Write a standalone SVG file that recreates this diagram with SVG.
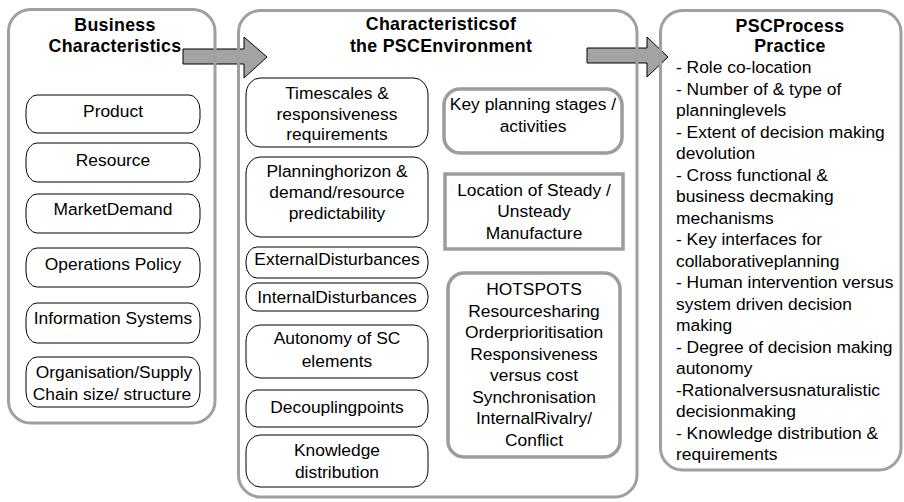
<svg xmlns="http://www.w3.org/2000/svg" width="904" height="502" viewBox="0 0 904 502">
<style>
text{font-family:"Liberation Sans",Arial,sans-serif;font-size:17.4px;fill:#000}
.t{font-weight:bold;text-anchor:middle;font-size:17.8px;letter-spacing:0.3px}
.c{text-anchor:middle}
.panel{fill:none;stroke:#a0a0a0;stroke-width:3}
.pill{fill:#fff;stroke:#000;stroke-width:1}
.gbox{fill:#fff;stroke:#9c9c9c;stroke-width:3.5}
.arrow{fill:#a3a3a3;stroke:#000;stroke-width:1}
</style>
<rect width="904" height="502" fill="#fff"/>
<g id="connectors">
<polygon class="arrow" points="183,49 244,49 244,37 267,57 244,78 244,64 183,64"/>
<polygon class="arrow" points="587,48 647,48 647,37 668,57 647,77 647,63 587,63"/>
</g>
<g id="business">
<rect class="panel" x="8.5" y="9.5" width="206.5" height="413.5" rx="22"/>
<text class="t" x="115" y="31">Business</text>
<text class="t" x="115" y="52">Characteristics</text>
</g>
<g id="product"><rect class="pill" x="26" y="95" width="174" height="38" rx="11" ry="15"/><text class="c" x="113" y="117">Product</text></g>
<g id="resource"><rect class="pill" x="26" y="143" width="174" height="39" rx="11" ry="15"/><text class="c" x="113" y="166">Resource</text></g>
<g id="market"><rect class="pill" x="26" y="194" width="174" height="39" rx="11" ry="15"/><text class="c" x="113" y="215">MarketDemand</text></g>
<g id="operations"><rect class="pill" x="26" y="248" width="174" height="39" rx="11" ry="15"/><text class="c" x="113" y="270">Operations Policy</text></g>
<g id="information"><rect class="pill" x="26" y="303" width="174" height="40" rx="11" ry="15"/><text class="c" x="113" y="324">Information Systems</text></g>
<g id="organisation"><rect class="pill" x="26" y="357" width="174" height="50" rx="11" ry="15"/><text class="c" x="114" y="378">Organisation/Supply</text><text class="c" x="112" y="400">Chain size/ structure</text></g>

<g id="environment">
<rect class="panel" x="238.5" y="10.5" width="398.5" height="486.5" rx="22"/>
<text class="t" x="441" y="30">Characteristicsof</text>
<text class="t" x="441" y="52">the PSCEnvironment</text>
</g>
<g id="timescales"><rect class="pill" x="246" y="78" width="182" height="69" rx="14" ry="17"/><text class="c" x="337" y="99">Timescales &amp;</text><text class="c" x="337" y="119.5">responsiveness</text><text class="c" x="337" y="140">requirements</text></g>
<g id="horizon"><rect class="pill" x="246" y="157" width="182" height="80" rx="14" ry="17"/><text class="c" x="337" y="177">Planninghorizon &amp;</text><text class="c" x="337" y="198">demand/resource</text><text class="c" x="337" y="219">predictability</text></g>
<g id="external"><rect class="pill" x="246" y="247" width="182" height="31" rx="11" ry="14"/><text class="c" x="337" y="265">ExternalDisturbances</text></g>
<g id="internal"><rect class="pill" x="246" y="283" width="182" height="28" rx="11" ry="13"/><text class="c" x="337" y="303">InternalDisturbances</text></g>
<g id="autonomy"><rect class="pill" x="246" y="325" width="182" height="53" rx="14" ry="17"/><text class="c" x="337" y="344">Autonomy of SC</text><text class="c" x="337" y="367">elements</text></g>
<g id="decoupling"><rect class="pill" x="246" y="390" width="182" height="37" rx="11" ry="15"/><text class="c" x="337" y="413">Decouplingpoints</text></g>
<g id="knowledge"><rect class="pill" x="246" y="435" width="182" height="52" rx="14" ry="17"/><text class="c" x="337" y="456">Knowledge</text><text class="c" x="337" y="478">distribution</text></g>

<g id="keyplanning"><rect class="gbox" x="444" y="89" width="178" height="64" rx="16"/><text class="c" x="533" y="110">Key planning stages /</text><text class="c" x="533" y="132">activities</text></g>
<g id="location"><rect class="gbox" x="445" y="174" width="178" height="75"/><text class="c" x="534" y="196">Location of Steady /</text><text class="c" x="534" y="217">Unsteady</text><text class="c" x="534" y="239">Manufacture</text></g>
<g id="hotspots"><rect class="gbox" x="448" y="273" width="172" height="184" rx="16"/>
<text class="c" x="534" y="295">HOTSPOTS</text>
<text class="c" x="534" y="316.5">Resourcesharing</text>
<text class="c" x="534" y="338">Orderprioritisation</text>
<text class="c" x="534" y="359.5">Responsiveness</text>
<text class="c" x="534" y="381">versus cost</text>
<text class="c" x="534" y="402.5">Synchronisation</text>
<text class="c" x="534" y="424">InternalRivalry/</text>
<text class="c" x="534" y="445.5">Conflict</text>
</g>

<g id="practice">
<rect class="panel" x="660.5" y="10.5" width="240.5" height="459.5" rx="22"/>
<text class="t" x="790" y="32">PSCProcess</text>
<text class="t" x="790" y="52">Practice</text>
<text x="676" y="73">- Role co-location</text>
<text x="676" y="94.5">- Number of &amp; type of</text>
<text x="676" y="116">planninglevels</text>
<text x="676" y="137.5">- Extent of decision making</text>
<text x="676" y="159">devolution</text>
<text x="676" y="180.5">- Cross functional &amp;</text>
<text x="676" y="202">business decmaking</text>
<text x="676" y="223.5">mechanisms</text>
<text x="676" y="245">- Key interfaces for</text>
<text x="676" y="266.5">collaborativeplanning</text>
<text x="676" y="288">- Human intervention versus</text>
<text x="676" y="309.5">system driven decision</text>
<text x="676" y="331">making</text>
<text x="676" y="352.5">- Degree of decision making</text>
<text x="676" y="374">autonomy</text>
<text x="676" y="395.5">-Rationalversusnaturalistic</text>
<text x="676" y="417">decisionmaking</text>
<text x="676" y="438.5">- Knowledge distribution &amp;</text>
<text x="676" y="460">requirements</text>
</g>
</svg>
